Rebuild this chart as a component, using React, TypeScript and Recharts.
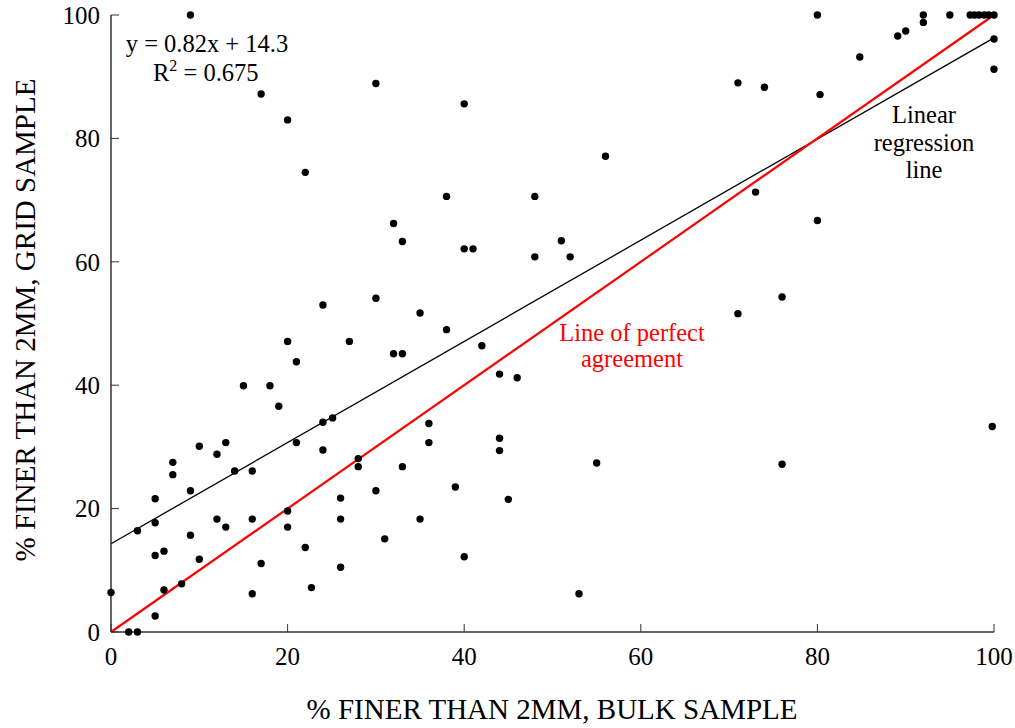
import React from "react";
import {
  ScatterChart,
  Scatter,
  XAxis,
  YAxis,
  ReferenceLine,
  Customized,
} from "recharts";

// % finer than 2mm: bulk sample (x) vs grid sample (y)
const BULK = [
  0, 2, 3, 3, 5, 5, 5, 6, 6, 5, 7, 7, 8, 9, 9, 10, 10, 12, 12, 13, 13, 14, 15, 16, 16, 16, 17, 18, 19, 20,
  21, 21, 20, 20, 22, 22.7, 24, 25.1, 24, 26, 26, 26, 27, 28, 28, 30, 31, 32, 33, 33, 9, 17, 30, 20, 22,
  32, 33, 24, 30, 40, 38, 48, 56, 40, 41, 51, 48, 52, 35, 38, 42, 44, 46, 36, 36, 44, 44, 39, 45, 55, 35,
  40, 53, 80, 92, 95, 97.3, 97.8, 98.3, 98.9, 99.4, 100, 92, 89.1, 90, 84.8, 100, 100, 71, 74, 80.3, 73,
  80, 76, 71, 76, 99.8,
];
const GRID = [
  6.4, 0, 0, 16.4, 21.6, 17.7, 12.4, 13.1, 6.8, 2.6, 27.5, 25.5, 7.8, 22.9, 15.7, 30.1, 11.8, 28.8, 18.3,
  30.7, 17.0, 26.1, 39.9, 26.1, 18.3, 6.2, 11.1, 39.9, 36.6, 47.1, 43.8, 30.7, 19.6, 17.0, 13.7, 7.2, 34.0,
  34.7, 29.5, 21.7, 18.3, 10.5, 47.1, 28.1, 26.8, 22.9, 15.1, 45.1, 45.1, 26.8, 100, 87.2, 88.9, 83.0, 74.5,
  66.2, 63.3, 53.0, 54.1, 85.6, 70.6, 70.6, 77.1, 62.1, 62.1, 63.4, 60.8, 60.8, 51.7, 49.0, 46.4, 41.8,
  41.2, 33.8, 30.7, 31.4, 29.4, 23.5, 21.5, 27.4, 18.3, 12.2, 6.2, 100, 100, 100, 100, 100, 100, 100, 100,
  100, 98.8, 96.6, 97.4, 93.2, 96.1, 91.2, 89.0, 88.3, 87.1, 71.3, 66.7, 54.3, 51.6, 27.2, 33.3,
];
const TICKS = [0, 20, 40, 60, 80, 100];
const REGRESSION = [
  { x: 0, y: 14.3 },
  { x: 100, y: 96.3 },
];
const PERFECT = [
  { x: 0, y: 0 },
  { x: 100, y: 100 },
];

const FONT = "Liberation Serif, DejaVu Serif, serif";

const points = BULK.map((x, i) => ({ x, y: GRID[i] }));

const Dot = (props: any) => <circle cx={props.cx} cy={props.cy} r={3.7} fill="#000" />;

const Annotations = () => (
  <g style={{ fontFamily: FONT }}>
    <text x={28} y={320} fontSize={29} textAnchor="middle" transform="rotate(-90 28 320)" dominantBaseline="middle">
      % FINER THAN 2MM, GRID SAMPLE
    </text>
    <text x={552} y={712} fontSize={29} textAnchor="middle" dominantBaseline="middle">
      % FINER THAN 2MM, BULK SAMPLE
    </text>
    <text x={207} y={52} fontSize={24.5} textAnchor="middle">
      y = 0.82x + 14.3
    </text>
    <text x={153} y={81} fontSize={24.5}>
      R<tspan dy={-10} fontSize={16}>2</tspan>
      <tspan dy={10}> = 0.675</tspan>
    </text>
    <text x={924} y={123} fontSize={24.5} textAnchor="middle">Linear</text>
    <text x={924} y={151} fontSize={24.5} textAnchor="middle">regression</text>
    <text x={924} y={178} fontSize={24.5} textAnchor="middle">line</text>
    <text x={632} y={341} fontSize={24.5} textAnchor="middle" fill="#ff0000">Line of perfect</text>
    <text x={632} y={367} fontSize={24.5} textAnchor="middle" fill="#ff0000">agreement</text>
  </g>
);

export default function App() {
  const tickStyle = { fontSize: 25, fill: "#000", style: { fontFamily: FONT } };
  return (
    <div
      style={{
        position: "absolute",
        left: 0,
        top: 0,
        width: 1015,
        height: 728,
        background: "#fff",
        fontFamily: FONT,
      }}
    >
      <ScatterChart width={1015} height={728} margin={{ top: 15, right: 21, bottom: 36, left: 0 }}>
        <XAxis
          type="number"
          dataKey="x"
          domain={[0, 100]}
          ticks={TICKS}
          height={60}
          tickSize={-8}
          tickMargin={23}
          tick={tickStyle}
          axisLine={{ stroke: "#333", strokeWidth: 1.5 }}
          tickLine={{ stroke: "#333" }}
        />
        <XAxis
          xAxisId="top"
          orientation="top"
          type="number"
          domain={[0, 100]}
          ticks={TICKS}
          height={0}
          tickSize={-8}
          tick={false}
          axisLine={{ stroke: "#333", strokeWidth: 1.5 }}
          tickLine={{ stroke: "#333" }}
        />
        <YAxis
          type="number"
          dataKey="y"
          domain={[0, 100]}
          ticks={TICKS}
          width={111}
          tickSize={-8}
          tickMargin={19}
          tick={tickStyle}
          axisLine={{ stroke: "#333", strokeWidth: 1.5 }}
          tickLine={{ stroke: "#333" }}
        />
        <YAxis
          yAxisId="right"
          orientation="right"
          type="number"
          domain={[0, 100]}
          ticks={TICKS}
          width={0}
          tickSize={-8}
          tick={false}
          axisLine={{ stroke: "#333", strokeWidth: 1.5 }}
          tickLine={{ stroke: "#333" }}
        />
        <ReferenceLine segment={REGRESSION} stroke="#000" strokeWidth={1.3} ifOverflow="visible" />
        <ReferenceLine segment={PERFECT} stroke="#ff0000" strokeWidth={2.2} ifOverflow="visible" />
        <Scatter data={points} shape={Dot} isAnimationActive={false} />
        <Customized component={Annotations} />
      </ScatterChart>
    </div>
  );
}
